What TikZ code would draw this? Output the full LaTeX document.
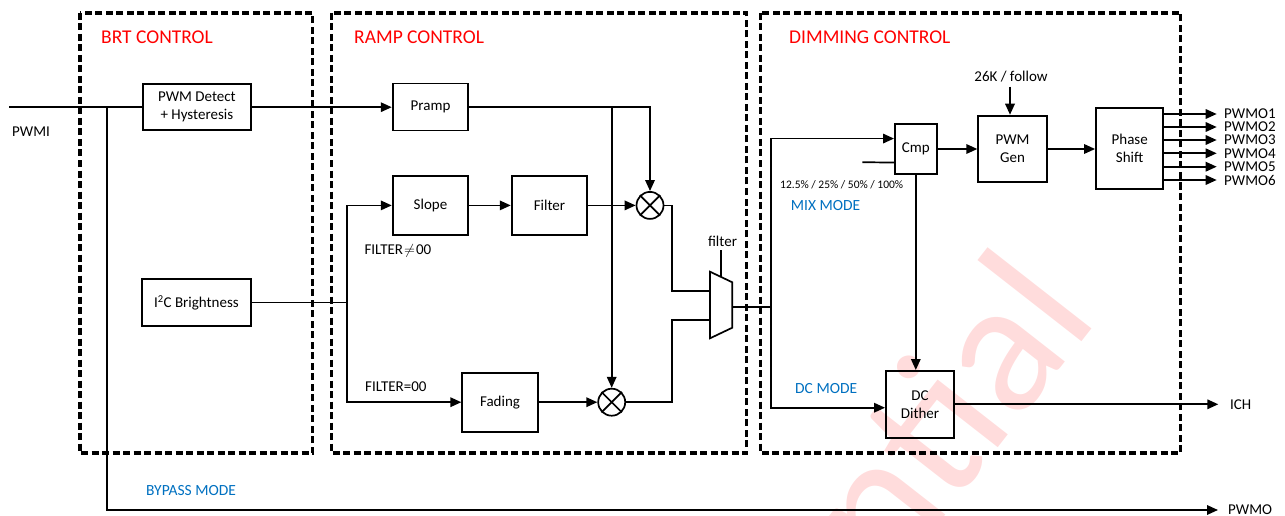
\documentclass[tikz,border=0pt]{standalone}
\usepackage{fontspec}
\setmainfont{Carlito}
\usetikzlibrary{arrows.meta,calc}
\definecolor{mblue}{RGB}{0,112,192}
\definecolor{wmark}{RGB}{255,220,220}
\begin{document}
\begin{tikzpicture}[x=1pt,y=-1pt,
  box/.style={draw,line width=1.9pt,align=center,inner sep=0pt,font=\fontsize{15}{18}\selectfont},
  con/.style={line width=1.7pt},
  arr/.style={con,-{Triangle[length=11pt,width=9.5pt]}},
  mult/.style={draw,circle,line width=1.7pt,minimum size=27pt,inner sep=0pt},
  zone/.style={line width=3.2pt,dash pattern=on 7pt off 3.5pt},
  lbl/.style={inner sep=0pt,font=\fontsize{15}{18}\selectfont},
  smlbl/.style={inner sep=0pt,font=\fontsize{15}{16}\selectfont},
  hdr/.style={inner sep=0pt,text=red,font=\fontsize{19.5}{21}\selectfont},
  modelbl/.style={inner sep=0pt,text=mblue,font=\fontsize{15.5}{18}\selectfont},
]
\useasboundingbox (0,0) rectangle (1285,516);

% watermark (only its visible end lies inside the picture)
\begin{scope}
\clip (0,0) rectangle (1285,516);
\node[rotate=52,anchor=base east,inner sep=0pt,text=wmark,font=\fontsize{190}{190}\selectfont] (wm) at (1100,318) {ntial};
\end{scope}

% zones
\draw[zone] (80,13) rectangle (312.7,453);
\draw[zone] (331.7,13) rectangle (746.7,453);
\draw[zone] (760.7,13) rectangle (1180.7,453);
\node[hdr,anchor=west] (hbrt) at (101,37) {BRT CONTROL};
\node[hdr,anchor=west] (hramp) at (354,37) {RAMP CONTROL};
\node[hdr,anchor=west] (hdim) at (789,37) {DIMMING CONTROL};

% blocks
\node[box,minimum width=108.3pt,minimum height=46.3pt] (pwmdet) at (196.9,107.2) {PWM Detect\\+ Hysteresis};
\node[box,minimum width=109.3pt,minimum height=47pt] (i2c) at (196.4,302.5) {I\textsuperscript{2}C Brightness};
\node[box,minimum width=75.6pt,minimum height=47pt] (pramp) at (430.5,107) {Pramp};
\node[box,minimum width=75.6pt,minimum height=59.3pt] (slope) at (430.5,205.4) {Slope};
\node[box,minimum width=75.6pt,minimum height=59.3pt] (filter) at (549.5,205.4) {Filter};
\node[box,minimum width=75.4pt,minimum height=59pt] (fading) at (500,402.2) {Fading};
\node[mult] (m1) at (650,205.4) {};
\node[mult] (m2) at (611.7,402.2) {};
\draw[con] (m1.45) -- (m1.225) (m1.135) -- (m1.315);
\draw[con] (m2.45) -- (m2.225) (m2.135) -- (m2.315);
\node[box,minimum width=41.7pt,minimum height=50.3pt] (cmp) at (915.8,149) {Cmp};
\node[box,minimum width=68.4pt,minimum height=66.6pt] (pwmgen) at (1012.5,149) {PWM\\Gen};
\node[box,minimum width=67.3pt,minimum height=81.6pt] (phase) at (1129.7,148.5) {Phase\\Shift};
\node[box,minimum width=68pt,minimum height=66.7pt] (dcd) at (920,404.3) {DC\\Dither};

% mux
\draw[line width=1.7pt] (710,271.7) -- (732.3,282.3) -- (732.3,327.7) -- (710,338.3) -- cycle;
\coordinate (muxin1) at (710,290.7);
\coordinate (muxin2) at (710,320.3);
\coordinate (muxout) at (732.3,306.7);
\coordinate (muxtop) at (721,276.9);
\coordinate (fsel) at (721,250);
\node[lbl] (flbl) at (722.5,241) {filter};
\draw[con] (fsel) -- (muxtop);

% labels
\node[lbl,anchor=west] (pwmilbl) at (12,131.7) {PWMI};
\node[lbl,anchor=west] (fne) at (364.3,251) {FILTER\kern1pt$\neq$\kern1pt00};
\node[lbl,anchor=west] (feq) at (365,386.7) {FILTER=00};
\node[modelbl,anchor=west] (byplbl) at (146,491) {BYPASS MODE};
\node[inner sep=0pt,font=\fontsize{11.5}{13}\selectfont,anchor=west] (pct) at (780,184.3) {12.5\% / 25\% / 50\% / 100\%};
\node[modelbl,anchor=west] (mixlbl) at (790.7,205.7) {MIX MODE};
\node[modelbl,anchor=west] (dclbl) at (795,389) {DC MODE};
\node[lbl] (k26) at (1011,76.7) {26K / follow};
\node[lbl,anchor=west] (ich) at (1230,405) {ICH};
\node[lbl,anchor=west] (pwmo) at (1228,510) {PWMO};

% coordinates
\coordinate (pwmiin) at (9,107.2);
\coordinate (bypj) at (106.7,107.2);
\coordinate (pwmotip) at (1218,510);
\coordinate (isplit) at (346.7,302.5);
\coordinate (j1) at (671.7,290.7);
\coordinate (j2) at (671.7,320.3);
\coordinate (dj) at (771,306.7);
\coordinate (cmpin1) at ($(cmp.north west)!0.3!(cmp.south west)$);
\coordinate (cmpin2) at ($(cmp.north west)!0.76!(cmp.south west)$);
\coordinate (pctsrc) at (862.3,162.2);
\coordinate (dcdin) at ($(dcd.north west)!0.55!(dcd.south west)$);
\coordinate (k26b) at (1010,86.7);
\coordinate (ichtip) at (1218.3,403.3);

% connectors
\draw[con] (pwmiin) -- (pwmdet.west);
\draw[arr] (bypj) |- (pwmotip);
\draw[arr] (pwmdet.east) -- (pwmdet.east -| pramp.west);
\draw[arr] (pramp.east) -| (m1.north);
\draw[arr] (pramp.east -| m2.north) -- (m2.north);
\draw[con] (i2c.east) -- (isplit);
\draw[arr] (isplit) |- (slope.west);
\draw[arr] (isplit) |- (fading.west);
\draw[arr] (slope.east) -- (filter.west);
\draw[arr] (filter.east) -- (m1.west);
\draw[arr] (fading.east) -- (m2.west);
\draw[con] (m1.east) -| (j1) -- (muxin1);
\draw[con] (m2.east) -| (j2) -- (muxin2);
\draw[con] (muxout) -- (dj);
\draw[arr] (dj) |- (cmpin1);
\draw[arr] (dj) |- (dcdin);
\draw[con] (pctsrc) -- (cmpin2);
\draw[arr] (cmp.south) -- (cmp.south |- dcd.north);
\draw[arr] (cmp.east) -- (pwmgen.west);
\draw[arr] (k26b) -- (k26b |- pwmgen.north);
\draw[arr] (pwmgen.east) -- (pwmgen.east -| phase.west);
\draw[arr] (dcd.east) -- (dcd.east -| ichtip);
\foreach \i/\yy in {1/114,2/127,3/140,4/153.3,5/166.7,6/180}{
  \coordinate (po\i) at (1216.7,\yy);
  \draw[arr] (phase.east |- po\i) -- (po\i);
  \node[smlbl,anchor=west] (pl\i) at (1224,\yy) {PWMO\i};
}
\end{tikzpicture}
\end{document}
